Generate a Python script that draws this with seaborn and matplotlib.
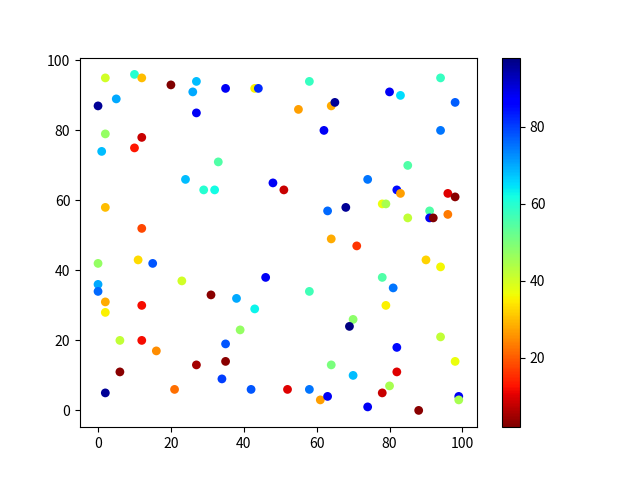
import matplotlib
matplotlib.use('Agg')
import matplotlib.pyplot as plt
import seaborn as sns
import pandas as pd

# ==============================================================================: DATA
x_vals = [0, 1, 2, 2, 5, 10, 12, 10, 12, 20,
          26, 27, 27, 35, 43, 44, 24, 29, 32, 33,
          2, 12, 0, 0, 0, 2, 2, 11, 15, 12,
          6, 12, 16, 6, 2, 21, 23, 31, 27, 35,
          35, 34, 38, 43, 39, 46, 42, 52, 58, 61,
          63, 58, 48, 51, 55, 58, 64, 65, 62, 63,
          68, 64, 71, 80, 83, 94, 98, 94, 74, 82,
          83, 85, 78, 79, 85, 91, 91, 92, 96, 98,
          96, 90, 94, 78, 81, 79, 70, 69, 82, 64,
          70, 82, 78, 80, 74, 88, 94, 98, 99, 99]
y_vals = [87, 74, 95, 79, 89, 96, 95, 75, 78, 93,
          91, 94, 85, 92, 92, 92, 66, 63, 63, 71,
          58, 52, 42, 36, 34, 31, 28, 43, 42, 30,
          20, 20, 17, 11, 5, 6, 37, 33, 13, 14,
          19, 9, 32, 29, 23, 38, 6, 6, 6, 3,
          4, 34, 65, 63, 86, 94, 87, 88, 80, 57,
          58, 49, 47, 91, 90, 95, 88, 80, 66, 63,
          62, 70, 59, 59, 55, 57, 55, 55, 62, 61,
          56, 43, 41, 38, 35, 30, 26, 24, 18, 13,
          10, 11, 5, 7, 1, 0, 21, 14, 4, 3]
c_vals = [96, 68, 40, 47, 70, 60, 30, 13, 8, 2,
          70, 68, 88, 88, 35, 82, 68, 60, 62, 55,
          30, 18, 47, 70, 76, 28, 35, 33, 78, 12,
          42, 12, 25, 3, 96, 22, 40, 3, 5, 3,
          78, 80, 70, 63, 47, 88, 78, 10, 75, 27,
          88, 57, 88, 8, 27, 58, 28, 96, 88, 76,
          96, 28, 16, 88, 65, 58, 77, 75, 75, 85,
          27, 55, 37, 45, 42, 55, 88, 2, 10, 3,
          23, 32, 36, 55, 75, 35, 48, 98, 85, 50,
          68, 10, 8, 45, 88, 3, 42, 37, 88, 45]


# ==============================================================================: PLOT
def ft_scatter_plot(df):
    plt.rcParams['font.family'] = ['Noto Sans CJK SC', 'DejaVu Sans']
    fig, ax = plt.subplots(figsize=(6.4, 4.8), dpi=100)

    norm = plt.Normalize(df['c'].min(), df['c'].max())
    sns.scatterplot(data=df, x='x', y='y', hue='c', palette='jet_r', hue_norm=norm,
                    s=40, linewidth=0, legend=False, ax=ax)
    ax.set_xlabel('')
    ax.set_ylabel('')

    # Add the colour bar
    sm = plt.cm.ScalarMappable(cmap='jet_r', norm=norm)
    fig.colorbar(sm, ax=ax)

    plt.savefig('out.png')


# ==============================================================================: MAIN
def main():
    df = pd.DataFrame({'x': x_vals, 'y': y_vals, 'c': c_vals})
    ft_scatter_plot(df)

if __name__ == '__main__':
    main()
